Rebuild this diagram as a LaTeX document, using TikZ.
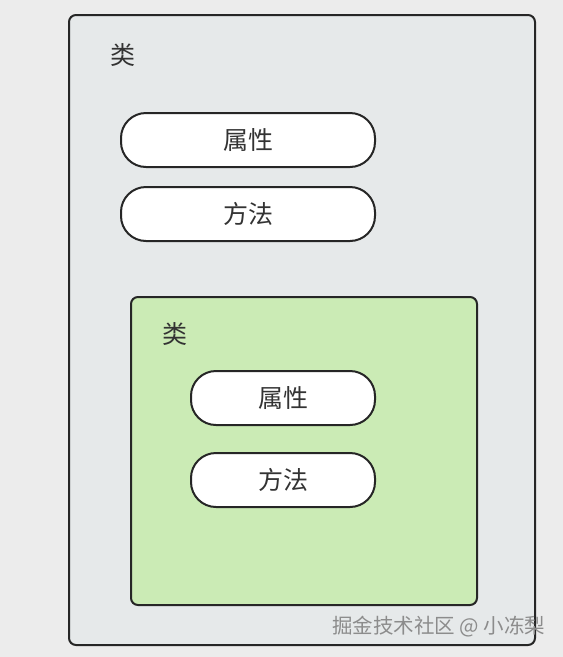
\documentclass[tikz,border=0pt]{standalone}
\usepackage{fontspec}
\setmainfont{Noto Sans CJK SC}
\usetikzlibrary{positioning}
\definecolor{pagebg}{HTML}{ECECEC}
\definecolor{classbg}{HTML}{E6E9EA}
\definecolor{innerbg}{HTML}{CBEBB5}
\definecolor{edge}{HTML}{262626}

\begin{document}
\begin{tikzpicture}[line cap=round,line join=round,x=1pt,y=-1pt,
  classbox/.style={draw=edge, line width=2pt, rounded corners=7pt},
  member/.style={draw=edge, line width=2pt, fill=white, rounded corners=25pt, minimum height=54pt, font=\fontsize{25}{25}\selectfont, text=black!80, inner sep=0pt},
  title/.style={font=\fontsize{25}{25}\selectfont, text=black!80}]
\useasboundingbox [fill=pagebg] (0,0) rectangle (563,657);
\draw [classbox, fill=classbg] (69,15) rectangle (535,645);
\node[title] (outertitle) at (123,55) {类};
\node[member, minimum width=254pt] (outerattr) at (248,140) {属性};
\node[member, minimum width=254pt] (outermeth) at (248,214) {方法};
\draw [classbox, fill=innerbg] (131,297) rectangle (477,605);
\node[title] (innertitle) at (175,334) {类};
\node[member, minimum width=184pt] (innerattr) at (283,398) {属性};
\node[member, minimum width=184pt] (innermeth) at (283,480) {方法};
%\node at (437,627) {watermark};
\node[font=\fontsize{20.5}{20.5}\selectfont, text=black!45, anchor=east] (mark) at (549,627) {掘金技术社区 @ 小冻梨};
\end{tikzpicture}
\end{document}
